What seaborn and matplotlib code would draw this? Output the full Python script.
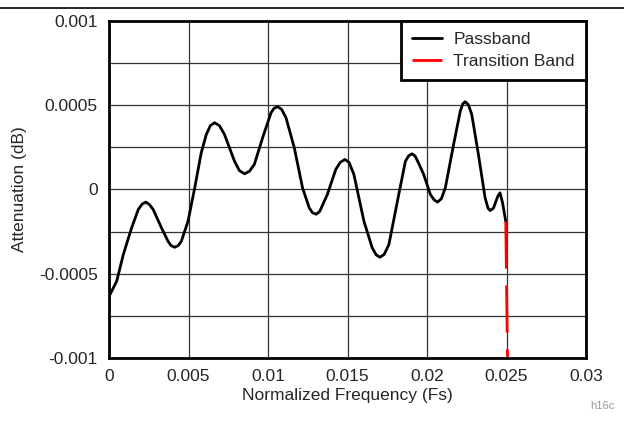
import numpy as np
import pandas as pd
import matplotlib
matplotlib.use("Agg")
import matplotlib.pyplot as plt
import seaborn as sns

# Passband ripple
pass_freq = [0.0, 0.00006, 0.00048, 0.0009, 0.00142, 0.00184, 0.00207, 0.0023, 0.00253,
             0.00278, 0.0033, 0.00371, 0.0039, 0.00413, 0.00435, 0.00455, 0.00497,
             0.00539, 0.0058, 0.00612, 0.00638, 0.00664, 0.00695, 0.00726, 0.00789,
             0.0082, 0.00852, 0.00883, 0.00914, 0.00966, 0.01019, 0.01038, 0.0106,
             0.01085, 0.01113, 0.01165, 0.01217, 0.01259, 0.0128, 0.01303, 0.01325,
             0.01373, 0.01426, 0.01455, 0.01484, 0.0151, 0.0154, 0.01603, 0.01655,
             0.0168, 0.01703, 0.0173, 0.0176, 0.01822, 0.01864, 0.01885, 0.01905,
             0.01925, 0.01945, 0.01979, 0.02021, 0.02045, 0.02066, 0.0209, 0.02115,
             0.02167, 0.02209, 0.02225, 0.0224, 0.0226, 0.02281, 0.02323, 0.02365,
             0.02383, 0.02396, 0.02417, 0.02445, 0.02459, 0.02475, 0.02495]
pass_atten = [-0.00062, -0.000624, -0.000545, -0.000386, -0.000228, -0.000119, -0.000088,
              -0.000075, -0.000088, -0.000119, -0.000228, -0.000307, -0.000333, -0.000343,
              -0.000333, -0.000307, -0.000188, 0.00001, 0.000218, 0.000327, 0.000380,
              0.000396, 0.000378, 0.000327, 0.000168, 0.000112, 0.000093, 0.000108,
              0.000149, 0.000307, 0.000456, 0.000482, 0.000491, 0.000476, 0.000426,
              0.000248, 0.00001, -0.000109, -0.000138, -0.000147, -0.000130, -0.00003,
              0.000119, 0.000162, 0.000178, 0.000160, 0.000089, -0.000188, -0.000346,
              -0.000388, -0.000402, -0.000386, -0.000327, -0.00003, 0.000168, 0.000200,
              0.000212, 0.000198, 0.000160, 0.000089, -0.00003, -0.000062, -0.000075,
              -0.000055, 0.00001, 0.000267, 0.000465, 0.000508, 0.000521, 0.000503,
              0.000446, 0.000208, -0.000049, -0.000110, -0.000125, -0.000112, -0.00004,
              -0.00002, -0.00008, -0.00019]

# Transition band (drops off the bottom of the plot)
trans_freq = [0.02495, 0.02507]
trans_atten = [-0.00019, -0.00108]

x_ticks = [0, 0.005, 0.01, 0.015, 0.02, 0.025, 0.03]
x_labels = ["0", "0.005", "0.01", "0.015", "0.02", "0.025", "0.03"]
y_ticks = [-0.001, -0.0005, 0, 0.0005, 0.001]
y_labels = ["-0.001", "-0.0005", "0", "0.0005", "0.001"]

sns.set_style("white")
plt.rcParams['font.family'] = ['Liberation Sans', 'DejaVu Sans']

fig = plt.figure(figsize=(6.24, 4.28), dpi=100)
ax = fig.add_axes([0.1747, 0.1636, 0.7645, 0.7874])

sns.lineplot(x=pass_freq, y=pass_atten, ax=ax, color="black", linewidth=2.0,
             label="Passband", sort=False)
sns.lineplot(x=trans_freq, y=trans_atten, ax=ax, color="red", linewidth=2.0,
             label="Transition Band", sort=False)
ax.lines[1].set_dashes((17, 6))

ax.set_xlim(0, 0.03)
ax.set_ylim(-0.001, 0.001)
ax.set_xticks(x_ticks)
ax.set_xticklabels(x_labels)
ax.set_yticks(y_ticks)
ax.set_yticklabels(y_labels)
ax.set_yticks(np.arange(-0.00075, 0.001, 0.0005), minor=True)
ax.grid(True, which="both", color="#333333", linewidth=0.9)
ax.tick_params(length=0, labelsize=12.5, pad=8)
ax.set_xlabel("Normalized Frequency (Fs)", fontsize=12.5, labelpad=3)
ax.set_ylabel("Attenuation (dB)", fontsize=12.5, labelpad=9)

for s in ax.spines.values():
    s.set_color("black")
    s.set_linewidth(2.0)

leg = ax.legend(loc="upper right", fontsize=12.5, frameon=True, fancybox=False,
                borderaxespad=0, handlelength=1.7, handletextpad=0.65,
                borderpad=0.65, labelspacing=0.35)
leg.get_frame().set_edgecolor("black")
leg.get_frame().set_linewidth(2.0)
leg.get_frame().set_alpha(1)

# thin rule at the top and the figure id
fig.add_artist(plt.Line2D([0, 1], [0.981, 0.981], color="black", linewidth=1.2))
fig.text(0.985, 0.045, "h16c", fontsize=8, color="#999999", ha="right")

fig.savefig("out.png", dpi=100)
